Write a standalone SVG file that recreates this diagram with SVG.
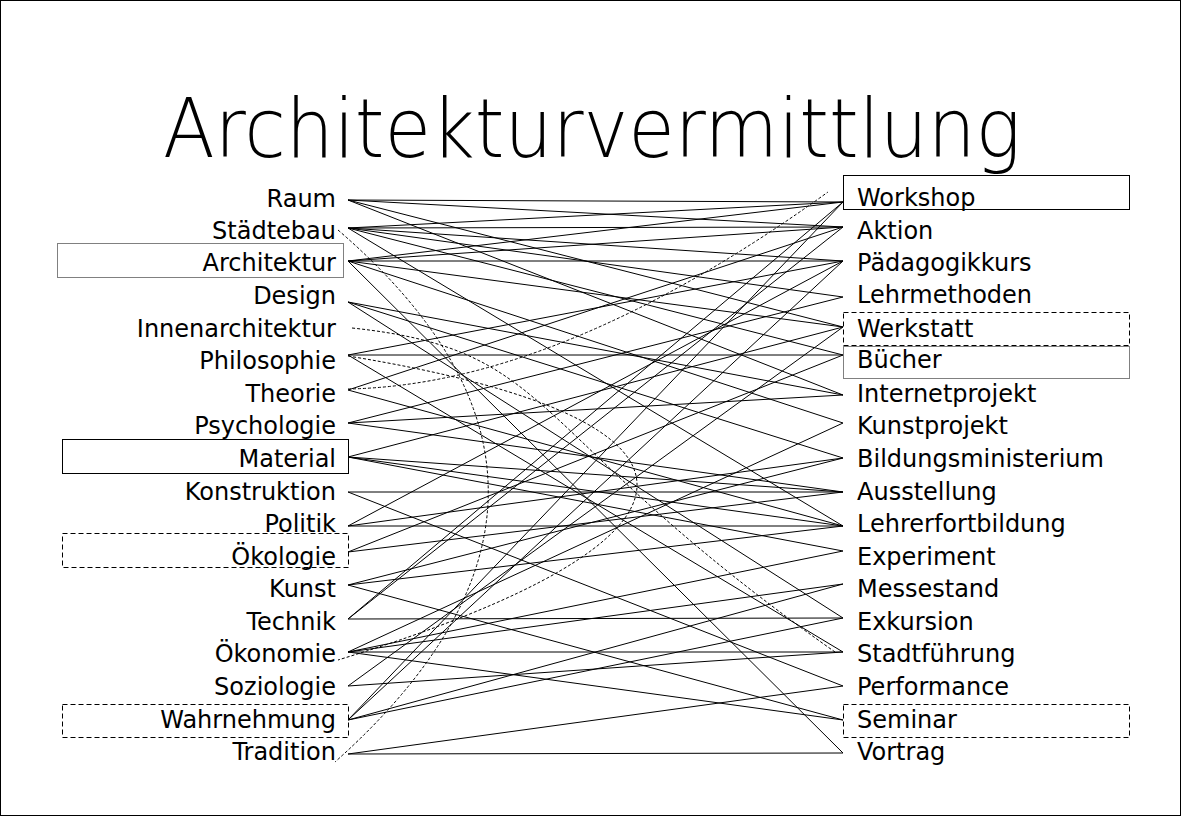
<svg xmlns="http://www.w3.org/2000/svg" width="1181" height="816" viewBox="0 0 1181 816">
<style>
.lbl{font-family:"DejaVu Sans","Liberation Sans",sans-serif;font-size:24px;fill:#000}
.l{text-anchor:end}
.title{font-family:"DejaVu Sans","Liberation Sans",sans-serif;font-size:82px;font-weight:200;fill:#000}
.e line{stroke:#000;stroke-width:1}
.d{fill:none;stroke:#000;stroke-width:1;stroke-dasharray:3,2}
.box{fill:none;stroke:#000;stroke-width:1}
.dot{stroke-dasharray:1,1}
.dash{stroke-dasharray:5,3}
</style>
<rect x="0.5" y="0.5" width="1180" height="815" fill="#fff" stroke="#000"/>
<text class="title" x="163" y="157" textLength="858" lengthAdjust="spacingAndGlyphs">Architekturvermittlung</text>

<g id="connectors">
<g class="e">
<!-- Raum 200 -->
<line x1="348" y1="200" x2="843" y2="202"/>
<line x1="348" y1="200" x2="843" y2="227"/>
<line x1="348" y1="200" x2="843" y2="327"/>
<line x1="348" y1="200" x2="843" y2="395"/>
<!-- Städtebau 228 -->
<line x1="348" y1="228" x2="843" y2="202"/>
<line x1="348" y1="228" x2="843" y2="227"/>
<line x1="348" y1="228" x2="843" y2="261"/>
<line x1="348" y1="228" x2="843" y2="297"/>
<line x1="348" y1="228" x2="843" y2="355"/>
<line x1="348" y1="228" x2="843" y2="526"/>
<!-- Architektur 261 -->
<line x1="348" y1="261" x2="843" y2="202"/>
<line x1="348" y1="261" x2="843" y2="227"/>
<line x1="348" y1="261" x2="843" y2="261"/>
<line x1="348" y1="261" x2="843" y2="327"/>
<line x1="348" y1="261" x2="843" y2="423"/>
<line x1="348" y1="261" x2="843" y2="753"/>
<!-- Design 302 -->
<line x1="348" y1="302" x2="843" y2="395"/>
<line x1="348" y1="302" x2="843" y2="458"/>
<line x1="348" y1="302" x2="843" y2="618"/>
<!-- Philosophie 355 -->
<line x1="348" y1="355" x2="843" y2="355"/>
<line x1="348" y1="355" x2="843" y2="261"/>
<line x1="348" y1="355" x2="843" y2="652"/>
<!-- Theorie 390 -->
<line x1="348" y1="390" x2="843" y2="227"/>
<line x1="348" y1="390" x2="843" y2="526"/>
<!-- Psychologie 423 -->
<line x1="348" y1="423" x2="843" y2="297"/>
<line x1="348" y1="423" x2="843" y2="395"/>
<line x1="348" y1="423" x2="843" y2="492"/>
<!-- Material 457 -->
<line x1="348" y1="457" x2="843" y2="327"/>
<line x1="348" y1="457" x2="843" y2="492"/>
<line x1="348" y1="457" x2="843" y2="526"/>
<line x1="348" y1="457" x2="843" y2="551"/>
<!-- Konstruktion 492 -->
<line x1="348" y1="492" x2="843" y2="492"/>
<line x1="348" y1="492" x2="843" y2="686"/>
<!-- Politik 526 -->
<line x1="348" y1="526" x2="843" y2="261"/>
<line x1="348" y1="526" x2="843" y2="458"/>
<line x1="348" y1="526" x2="843" y2="526"/>
<!-- Ökologie 552 -->
<line x1="348" y1="552" x2="843" y2="355"/>
<line x1="348" y1="552" x2="843" y2="492"/>
<!-- Kunst 585 -->
<line x1="348" y1="585" x2="843" y2="458"/>
<line x1="348" y1="585" x2="843" y2="526"/>
<line x1="348" y1="585" x2="843" y2="720"/>
<!-- Technik 619 -->
<line x1="348" y1="619" x2="843" y2="202"/>
<line x1="348" y1="619" x2="843" y2="227"/>
<line x1="348" y1="619" x2="843" y2="618"/>
<!-- Ökonomie 652 -->
<line x1="348" y1="652" x2="843" y2="423"/>
<line x1="348" y1="652" x2="843" y2="584"/>
<line x1="348" y1="652" x2="843" y2="652"/>
<line x1="348" y1="652" x2="843" y2="720"/>
<line x1="348" y1="652" x2="843" y2="551"/>
<!-- Soziologie 686 -->
<line x1="348" y1="686" x2="843" y2="327"/>
<line x1="348" y1="686" x2="843" y2="652"/>
<!-- Wahrnehmung 720 -->
<line x1="348" y1="720" x2="843" y2="202"/>
<line x1="348" y1="720" x2="843" y2="261"/>
<line x1="348" y1="720" x2="843" y2="584"/>
<line x1="348" y1="720" x2="843" y2="618"/>
<!-- Tradition 754 -->
<line x1="348" y1="754" x2="843" y2="753"/>
<line x1="348" y1="754" x2="843" y2="686"/>
</g>
<path class="d" d="M338,230 Q640,490 335,762"/>
<path class="d" d="M352,328 C560,350 520,430 835,652"/>
<path class="d" d="M348,389 Q560,385 828,192"/>
<path class="d" d="M348,356 C740,420 730,540 338,660"/>
</g>

<g id="left-nodes">
<g id="n-raum"><text class="lbl l" x="336" y="207">Raum</text></g>
<g id="n-staedtebau"><text class="lbl l" x="336" y="239">Städtebau</text></g>
<g id="n-architektur"><rect class="box dot" x="57.5" y="243.5" width="286" height="34"/><text class="lbl l" x="336" y="271">Architektur</text></g>
<g id="n-design"><text class="lbl l" x="336" y="304">Design</text></g>
<g id="n-innenarchitektur"><text class="lbl l" x="336" y="337">Innenarchitektur</text></g>
<g id="n-philosophie"><text class="lbl l" x="336" y="369">Philosophie</text></g>
<g id="n-theorie"><text class="lbl l" x="336" y="402">Theorie</text></g>
<g id="n-psychologie"><text class="lbl l" x="336" y="434">Psychologie</text></g>
<g id="n-material"><rect class="box" x="62.5" y="439.5" width="286" height="34"/><text class="lbl l" x="336" y="467">Material</text></g>
<g id="n-konstruktion"><text class="lbl l" x="336" y="500">Konstruktion</text></g>
<g id="n-politik"><text class="lbl l" x="336" y="532">Politik</text></g>
<g id="n-oekologie"><rect class="box dash" x="62.5" y="533.5" width="286" height="34"/><text class="lbl l" x="336" y="565">Ökologie</text></g>
<g id="n-kunst"><text class="lbl l" x="336" y="597">Kunst</text></g>
<g id="n-technik"><text class="lbl l" x="336" y="630">Technik</text></g>
<g id="n-oekonomie"><text class="lbl l" x="336" y="662">Ökonomie</text></g>
<g id="n-soziologie"><text class="lbl l" x="336" y="695">Soziologie</text></g>
<g id="n-wahrnehmung"><rect class="box dash" x="62.5" y="704.5" width="286" height="33"/><text class="lbl l" x="336" y="728">Wahrnehmung</text></g>
<g id="n-tradition"><text class="lbl l" x="336" y="760">Tradition</text></g>
</g>

<g id="right-nodes">
<g id="n-workshop"><rect class="box" x="843.5" y="175.5" width="286" height="34"/><text class="lbl" x="857" y="206">Workshop</text></g>
<g id="n-aktion"><text class="lbl" x="857" y="239">Aktion</text></g>
<g id="n-paedagogikkurs"><text class="lbl" x="857" y="271">Pädagogikkurs</text></g>
<g id="n-lehrmethoden"><text class="lbl" x="857" y="303">Lehrmethoden</text></g>
<g id="n-werkstatt"><rect class="box dash" x="843.5" y="312.5" width="286" height="33"/><text class="lbl" x="857" y="337">Werkstatt</text></g>
<g id="n-buecher"><rect class="box dot" x="843.5" y="346.5" width="286" height="32"/><text class="lbl" x="857" y="368">Bücher</text></g>
<g id="n-internetprojekt"><text class="lbl" x="857" y="402">Internetprojekt</text></g>
<g id="n-kunstprojekt"><text class="lbl" x="857" y="434">Kunstprojekt</text></g>
<g id="n-bildungsministerium"><text class="lbl" x="857" y="467">Bildungsministerium</text></g>
<g id="n-ausstellung"><text class="lbl" x="857" y="500">Ausstellung</text></g>
<g id="n-lehrerfortbildung"><text class="lbl" x="857" y="532">Lehrerfortbildung</text></g>
<g id="n-experiment"><text class="lbl" x="857" y="565">Experiment</text></g>
<g id="n-messestand"><text class="lbl" x="857" y="597">Messestand</text></g>
<g id="n-exkursion"><text class="lbl" x="857" y="630">Exkursion</text></g>
<g id="n-stadtfuehrung"><text class="lbl" x="857" y="662">Stadtführung</text></g>
<g id="n-performance"><text class="lbl" x="857" y="695">Performance</text></g>
<g id="n-seminar"><rect class="box dash" x="843.5" y="704.5" width="286" height="33"/><text class="lbl" x="857" y="728">Seminar</text></g>
<g id="n-vortrag"><text class="lbl" x="857" y="760">Vortrag</text></g>
</g>
</svg>
